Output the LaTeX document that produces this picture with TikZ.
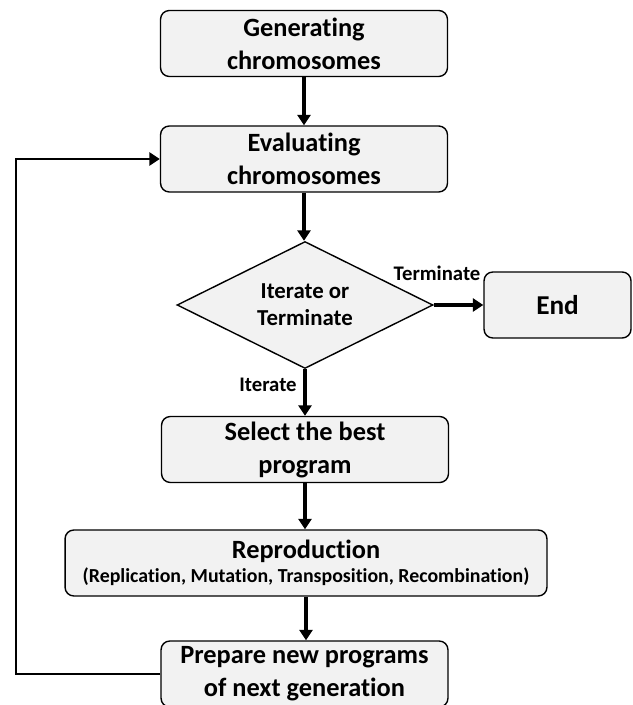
\documentclass[tikz,border=0pt]{standalone}
\usepackage{fontspec}
\setmainfont[Ligatures=NoCommon]{Carlito}
\usetikzlibrary{arrows.meta, positioning, shapes.geometric}
\definecolor{boxgray}{RGB}{242,242,242}
\tikzset{>={Triangle[length=6pt,width=7.5pt]}}

\begin{document}
\begin{tikzpicture}[x=0.02cm, y=-0.02cm,
    stepbox/.style={draw, fill=boxgray, rounded corners=5pt, line width=0.8pt,
      minimum width=5.74cm, minimum height=1.32cm, inner sep=1pt, align=center,
      font=\bfseries\fontsize{15}{18.8}\selectfont},
    decision/.style={diamond, draw, fill=boxgray, line width=0.8pt, aspect=2,
      minimum width=5.12cm, minimum height=2.54cm, inner sep=0pt, align=center,
      font=\bfseries\fontsize{13}{15.4}\selectfont},
    flow/.style={->, line width=2pt},
    tag/.style={font=\bfseries\fontsize{11.8}{13}\selectfont}]

        % frame of the page
        \useasboundingbox (0,0) rectangle (632,705);

        % Steps
        \node[stepbox] (gen) at (304,43.5) {Generating\\chromosomes};
        \node[stepbox] (eval) at (304,159) {Evaluating\\chromosomes};
        \node[decision] (decide) at (305,305) {Iterate or\\Terminate};
        \node[stepbox, minimum width=2.94cm, font=\bfseries\fontsize{15.5}{18.8}\selectfont] (end) at (557.5,305) {End};
        \node[stepbox] (select) at (305,449.5) {Select the best\\program};
        \node[stepbox, minimum width=9.64cm] (repro) at (306,563)
          {Reproduction\\[-5pt]{\fontsize{11.3}{14}\selectfont (Replication, Mutation, Transposition, Recombination)}};
        \node[stepbox] (prepare) at (304.5,674) {Prepare new programs\\of next generation};

        % Main flow
        \draw[flow] (gen) -- (gen |- eval.north);
        \draw[flow] (eval) -- (eval |- decide.north);
        \draw[flow] (decide) -- (decide |- select.north);
        \draw[flow] (decide.east) -- (end.west);
        \draw[flow] (select) -- (select |- repro.north);
        \draw[flow] (repro) -- (repro |- prepare.north);

        % Branch labels
        \node[tag] (termtag) at (437,273) {Terminate};
        \node[tag] (itertag) at (268,385) {Iterate};

        % Loop back to evaluation
        \coordinate (corner) at (16,674);
        \draw[->, line width=1.3pt] (prepare.west) -- (corner) |- (eval.west);
\end{tikzpicture}
\end{document}
